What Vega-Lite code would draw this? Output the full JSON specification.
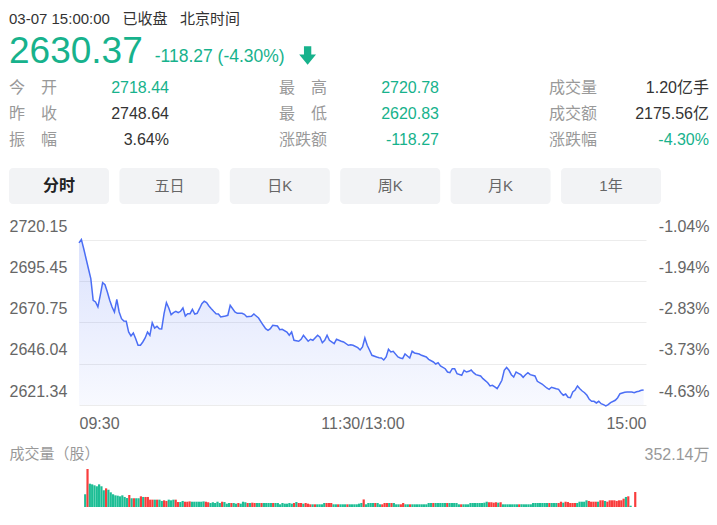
{
  "$schema": "https://vega.github.io/schema/vega-lite/v6.json",
  "background": "white",
  "padding": {"left": 9, "right": 8, "top": 0, "bottom": 0},
  "bounds": "flush",
  "spacing": 0,
  "resolve": {"scale": {"color": "independent"}},
  "config": {
    "font": "Liberation Sans, Noto Sans CJK SC, sans-serif",
    "view": {"stroke": null}
  },
  "datasets": {
    "head": [
      {"k": "a", "role": "time", "text": "03-07 15:00:00\u00a0\u00a0\u00a0已收盘\u00a0\u00a0\u00a0北京时间"},
      {"k": "a", "role": "price", "text": "2630.37"},
      {"k": "b", "role": "chg", "text": "-118.27 (-4.30%)"},
      {"k": "c", "role": "arrow", "text": ""}
    ],
    "stats": [
      {"g": "a", "r": 1, "label": "今　开", "value": "2718.44", "tone": "down"},
      {"g": "a", "r": 2, "label": "昨　收", "value": "2748.64", "tone": "flat"},
      {"g": "a", "r": 3, "label": "振　幅", "value": "3.64%", "tone": "flat"},
      {"g": "b", "r": 1, "label": "最　高", "value": "2720.78", "tone": "down"},
      {"g": "b", "r": 2, "label": "最　低", "value": "2620.83", "tone": "down"},
      {"g": "b", "r": 3, "label": "涨跌额", "value": "-118.27", "tone": "down"},
      {"g": "c", "r": 1, "label": "成交量", "value": "1.20亿手", "tone": "flat"},
      {"g": "c", "r": 2, "label": "成交额", "value": "2175.56亿", "tone": "flat"},
      {"g": "c", "r": 3, "label": "涨跌幅", "value": "-4.30%", "tone": "down"}
    ],
    "buttons": [
      {"name": "分时", "active": true},
      {"name": "五日", "active": false},
      {"name": "日K", "active": false},
      {"name": "周K", "active": false},
      {"name": "月K", "active": false},
      {"name": "1年", "active": false}
    ],
    "price": [
      {"t":0,"p":2718.44},{"t":1,"p":2720.5},{"t":2,"p":2714.94},{"t":3,"p":2708.95},{"t":4,"p":2702.96},
      {"t":5,"p":2696.98},{"t":6,"p":2684.04},{"t":7,"p":2683.02},{"t":8,"p":2680.03},{"t":9,"p":2687.04},
      {"t":10,"p":2694.58},{"t":11,"p":2693.38},{"t":12,"p":2689.01},{"t":13,"p":2684.04},{"t":14,"p":2680.03},
      {"t":15,"p":2677.04},{"t":16,"p":2684.64},{"t":17,"p":2677.04},{"t":18,"p":2673.02},{"t":19,"p":2671.65},
      {"t":20,"p":2671.47},{"t":21,"p":2665.06},{"t":22,"p":2662.67},{"t":23,"p":2664.46},{"t":24,"p":2661.05},
      {"t":25,"p":2657.1},{"t":26,"p":2657.1},{"t":27,"p":2659.07},{"t":28,"p":2661.47},{"t":29,"p":2665.06},
      {"t":30,"p":2663.08},{"t":31,"p":2670.63},{"t":32,"p":2667.46},{"t":33,"p":2668.47},{"t":34,"p":2667.04},
      {"t":35,"p":2666.86},{"t":36,"p":2676.02},{"t":37,"p":2682.61},{"t":38,"p":2679.43},{"t":39,"p":2675.42},
      {"t":40,"p":2676.62},{"t":41,"p":2677.46},{"t":42,"p":2676.62},{"t":43,"p":2677.46},{"t":44,"p":2679.43},
      {"t":45,"p":2674.64},{"t":46,"p":2676.02},{"t":47,"p":2676.02},{"t":48,"p":2678.65},{"t":49,"p":2675.84},
      {"t":50,"p":2676.26},{"t":51,"p":2679.01},{"t":52,"p":2682.01},{"t":53,"p":2683.44},{"t":54,"p":2682.61},
      {"t":55,"p":2680.63},{"t":56,"p":2679.01},{"t":57,"p":2677.46},{"t":58,"p":2676.02},{"t":59,"p":2675.84},
      {"t":60,"p":2674.04},{"t":62,"p":2674.64},{"t":63,"p":2675.06},{"t":64,"p":2681.05},{"t":66,"p":2677.04},
      {"t":67,"p":2676.26},{"t":69,"p":2676.26},{"t":70,"p":2675.66},{"t":71,"p":2674.22},{"t":73,"p":2674.46},
      {"t":74,"p":2675.84},{"t":75,"p":2674.64},{"t":76,"p":2673.44},{"t":78,"p":2669.07},{"t":79,"p":2667.04},
      {"t":80,"p":2666.08},{"t":81,"p":2667.04},{"t":82,"p":2669.07},{"t":84,"p":2668.65},{"t":85,"p":2666.44},
      {"t":86,"p":2666.68},{"t":88,"p":2665.06},{"t":89,"p":2663.08},{"t":90,"p":2665.06},{"t":91,"p":2660.09},
      {"t":93,"p":2659.49},{"t":94,"p":2660.69},{"t":95,"p":2663.08},{"t":97,"p":2659.49},{"t":98,"p":2660.69},
      {"t":99,"p":2660.09},{"t":101,"p":2663.08},{"t":102,"p":2661.89},{"t":103,"p":2658.65},{"t":104,"p":2660.09},
      {"t":105,"p":2663.08},{"t":106,"p":2660.09},{"t":108,"p":2658.05},{"t":109,"p":2660.69},{"t":111,"p":2659.49},
      {"t":112,"p":2659.07},{"t":114,"p":2657.1},{"t":115,"p":2657.46},{"t":116,"p":2657.1},{"t":118,"p":2655.66},
      {"t":119,"p":2654.28},{"t":120,"p":2656.08},{"t":121,"p":2661.47},{"t":122,"p":2657.1},{"t":123,"p":2654.1},
      {"t":124,"p":2651.11},{"t":126,"p":2650.09},{"t":127,"p":2649.67},{"t":128,"p":2649.49},{"t":129,"p":2648.29},
      {"t":130,"p":2650.09},{"t":131,"p":2654.7},{"t":132,"p":2653.08},{"t":133,"p":2653.5},{"t":135,"p":2650.09},
      {"t":136,"p":2649.49},{"t":137,"p":2649.07},{"t":138,"p":2651.89},{"t":139,"p":2650.69},{"t":140,"p":2649.49},
      {"t":141,"p":2653.5},{"t":142,"p":2652.49},{"t":144,"p":2651.89},{"t":145,"p":2651.11},{"t":147,"p":2650.09},
      {"t":148,"p":2648.71},{"t":150,"p":2647.1},{"t":151,"p":2645.9},{"t":152,"p":2646.68},{"t":153,"p":2644.7},
      {"t":155,"p":2643.08},{"t":156,"p":2641.11},{"t":157,"p":2640.69},{"t":158,"p":2643.08},{"t":159,"p":2643.08},
      {"t":160,"p":2640.09},{"t":162,"p":2639.13},{"t":163,"p":2642.13},{"t":164,"p":2641.11},{"t":165,"p":2641.53},
      {"t":166,"p":2642.31},{"t":167,"p":2640.69},{"t":168,"p":2639.49},{"t":170,"p":2638.71},{"t":171,"p":2637.1},
      {"t":173,"p":2634.7},{"t":174,"p":2632.73},{"t":175,"p":2633.14},{"t":176,"p":2632.13},{"t":177,"p":2631.11},
      {"t":178,"p":2633.5},{"t":179,"p":2636.14},{"t":180,"p":2642.13},{"t":181,"p":2643.8},{"t":182,"p":2642.13},
      {"t":183,"p":2639.49},{"t":184,"p":2638.11},{"t":185,"p":2641.11},{"t":186,"p":2640.33},{"t":187,"p":2639.49},
      {"t":188,"p":2637.94},{"t":189,"p":2639.49},{"t":190,"p":2640.69},{"t":191,"p":2639.49},{"t":193,"p":2638.71},
      {"t":194,"p":2635.54},{"t":196,"p":2633.92},{"t":197,"p":2632.73},{"t":198,"p":2631.53},{"t":199,"p":2630.75},
      {"t":200,"p":2631.95},{"t":202,"p":2631.11},{"t":203,"p":2630.75},{"t":204,"p":2628.71},{"t":205,"p":2627.16},
      {"t":206,"p":2627.93},{"t":207,"p":2625.96},{"t":208,"p":2625.72},{"t":209,"p":2629.13},{"t":210,"p":2630.33},
      {"t":211,"p":2632.73},{"t":212,"p":2631.11},{"t":213,"p":2629.73},{"t":214,"p":2628.71},{"t":215,"p":2627.16},
      {"t":216,"p":2624.76},{"t":217,"p":2623.56},{"t":218,"p":2623.56},{"t":219,"p":2622.55},{"t":220,"p":2623.56},
      {"t":221,"p":2622.13},{"t":222,"p":2621.53},{"t":223,"p":2620.83},{"t":224,"p":2621.53},{"t":225,"p":2622.73},
      {"t":227,"p":2624.16},{"t":228,"p":2625.72},{"t":229,"p":2628.11},{"t":231,"p":2628.95},{"t":232,"p":2629.13},
      {"t":234,"p":2629.13},{"t":235,"p":2628.71},{"t":236,"p":2629.31},{"t":237,"p":2629.55},{"t":238,"p":2630.15},
      {"t":239,"p":2630.37}
    ],
    "vol": [
      {"t":0,"v":118,"dir":"down"},{"t":1,"v":352.14,"dir":"up"},{"t":2,"v":216,"dir":"down"},{"t":3,"v":210,"dir":"down"},
      {"t":4,"v":201,"dir":"down"},{"t":5,"v":192,"dir":"down"},{"t":6,"v":210,"dir":"down"},{"t":7,"v":192,"dir":"down"},
      {"t":8,"v":155,"dir":"down"},{"t":9,"v":173,"dir":"up"},{"t":10,"v":160,"dir":"down"},{"t":11,"v":136,"dir":"down"},
      {"t":12,"v":118,"dir":"down"},{"t":13,"v":108,"dir":"down"},{"t":14,"v":105,"dir":"down"},{"t":15,"v":99,"dir":"down"},
      {"t":16,"v":108,"dir":"down"},{"t":17,"v":93,"dir":"down"},{"t":18,"v":83,"dir":"down"},{"t":19,"v":111,"dir":"up"},
      {"t":20,"v":81,"dir":"down"},{"t":21,"v":81,"dir":"up"},{"t":22,"v":81,"dir":"down"},{"t":23,"v":81,"dir":"down"},
      {"t":24,"v":99,"dir":"up"},{"t":25,"v":93,"dir":"down"},{"t":26,"v":93,"dir":"up"},{"t":27,"v":93,"dir":"up"},
      {"t":28,"v":68,"dir":"up"},{"t":29,"v":68,"dir":"up"},{"t":30,"v":68,"dir":"down"},{"t":31,"v":68,"dir":"up"},
      {"t":32,"v":68,"dir":"down"},{"t":33,"v":56,"dir":"down"},{"t":34,"v":62,"dir":"up"},{"t":35,"v":56,"dir":"up"},
      {"t":36,"v":68,"dir":"down"},{"t":37,"v":62,"dir":"down"},{"t":38,"v":68,"dir":"down"},{"t":39,"v":68,"dir":"up"},
      {"t":40,"v":46,"dir":"up"},{"t":41,"v":46,"dir":"down"},{"t":42,"v":56,"dir":"down"},{"t":43,"v":49,"dir":"up"},
      {"t":44,"v":49,"dir":"up"},{"t":45,"v":52,"dir":"up"},{"t":46,"v":49,"dir":"down"},{"t":47,"v":49,"dir":"down"},
      {"t":48,"v":49,"dir":"down"},{"t":49,"v":49,"dir":"down"},{"t":50,"v":49,"dir":"down"},{"t":51,"v":52,"dir":"down"},
      {"t":52,"v":49,"dir":"up"},{"t":53,"v":44,"dir":"up"},{"t":54,"v":37,"dir":"down"},{"t":55,"v":44,"dir":"down"},
      {"t":56,"v":37,"dir":"down"},{"t":57,"v":49,"dir":"down"},{"t":58,"v":37,"dir":"down"},{"t":59,"v":49,"dir":"up"},
      {"t":60,"v":46,"dir":"down"},{"t":61,"v":31,"dir":"down"},{"t":62,"v":37,"dir":"down"},{"t":63,"v":37,"dir":"up"},
      {"t":64,"v":37,"dir":"down"},{"t":65,"v":31,"dir":"down"},{"t":66,"v":37,"dir":"up"},{"t":67,"v":31,"dir":"down"},
      {"t":68,"v":49,"dir":"down"},{"t":69,"v":44,"dir":"down"},{"t":70,"v":37,"dir":"up"},{"t":71,"v":37,"dir":"down"},
      {"t":72,"v":40,"dir":"up"},{"t":73,"v":37,"dir":"up"},{"t":74,"v":37,"dir":"down"},{"t":75,"v":37,"dir":"down"},
      {"t":76,"v":37,"dir":"up"},{"t":77,"v":37,"dir":"down"},{"t":78,"v":37,"dir":"down"},{"t":79,"v":37,"dir":"down"},
      {"t":80,"v":37,"dir":"down"},{"t":81,"v":37,"dir":"up"},{"t":82,"v":37,"dir":"down"},{"t":83,"v":37,"dir":"down"},
      {"t":84,"v":25,"dir":"down"},{"t":85,"v":37,"dir":"down"},{"t":86,"v":31,"dir":"down"},{"t":87,"v":31,"dir":"down"},
      {"t":88,"v":37,"dir":"down"},{"t":89,"v":31,"dir":"down"},{"t":90,"v":37,"dir":"up"},{"t":91,"v":46,"dir":"down"},
      {"t":92,"v":37,"dir":"up"},{"t":93,"v":37,"dir":"up"},{"t":94,"v":31,"dir":"down"},{"t":95,"v":37,"dir":"up"},
      {"t":96,"v":31,"dir":"up"},{"t":97,"v":25,"dir":"up"},{"t":98,"v":25,"dir":"down"},{"t":99,"v":25,"dir":"up"},
      {"t":100,"v":25,"dir":"down"},{"t":101,"v":25,"dir":"down"},{"t":102,"v":25,"dir":"down"},{"t":103,"v":37,"dir":"down"},
      {"t":104,"v":37,"dir":"up"},{"t":105,"v":37,"dir":"up"},{"t":106,"v":37,"dir":"up"},{"t":107,"v":25,"dir":"down"},
      {"t":108,"v":25,"dir":"down"},{"t":109,"v":25,"dir":"up"},{"t":110,"v":25,"dir":"down"},{"t":111,"v":25,"dir":"down"},
      {"t":112,"v":25,"dir":"down"},{"t":113,"v":25,"dir":"up"},{"t":114,"v":25,"dir":"down"},{"t":115,"v":25,"dir":"down"},
      {"t":116,"v":25,"dir":"down"},{"t":117,"v":25,"dir":"down"},{"t":118,"v":31,"dir":"down"},{"t":119,"v":37,"dir":"down"},
      {"t":120,"v":70,"dir":"up"},{"t":121,"v":25,"dir":"down"},{"t":122,"v":37,"dir":"down"},{"t":123,"v":37,"dir":"down"},
      {"t":124,"v":37,"dir":"down"},{"t":125,"v":37,"dir":"up"},{"t":126,"v":37,"dir":"down"},{"t":127,"v":25,"dir":"down"},
      {"t":128,"v":25,"dir":"up"},{"t":129,"v":37,"dir":"up"},{"t":130,"v":37,"dir":"up"},{"t":131,"v":37,"dir":"down"},
      {"t":132,"v":37,"dir":"up"},{"t":133,"v":37,"dir":"down"},{"t":134,"v":25,"dir":"down"},{"t":135,"v":25,"dir":"down"},
      {"t":136,"v":25,"dir":"up"},{"t":137,"v":37,"dir":"up"},{"t":138,"v":25,"dir":"down"},{"t":139,"v":25,"dir":"down"},
      {"t":140,"v":25,"dir":"up"},{"t":141,"v":25,"dir":"down"},{"t":142,"v":25,"dir":"down"},{"t":143,"v":25,"dir":"down"},
      {"t":144,"v":25,"dir":"down"},{"t":145,"v":25,"dir":"down"},{"t":146,"v":25,"dir":"down"},{"t":147,"v":25,"dir":"down"},
      {"t":148,"v":37,"dir":"down"},{"t":149,"v":37,"dir":"down"},{"t":150,"v":37,"dir":"up"},{"t":151,"v":37,"dir":"down"},
      {"t":152,"v":37,"dir":"down"},{"t":153,"v":37,"dir":"down"},{"t":154,"v":37,"dir":"down"},{"t":155,"v":37,"dir":"down"},
      {"t":156,"v":37,"dir":"up"},{"t":157,"v":37,"dir":"down"},{"t":158,"v":37,"dir":"down"},{"t":159,"v":37,"dir":"down"},
      {"t":160,"v":37,"dir":"down"},{"t":161,"v":25,"dir":"down"},{"t":162,"v":25,"dir":"up"},{"t":163,"v":25,"dir":"down"},
      {"t":164,"v":25,"dir":"down"},{"t":165,"v":25,"dir":"down"},{"t":166,"v":37,"dir":"down"},{"t":167,"v":37,"dir":"down"},
      {"t":168,"v":37,"dir":"down"},{"t":169,"v":37,"dir":"down"},{"t":170,"v":37,"dir":"down"},{"t":171,"v":37,"dir":"down"},
      {"t":172,"v":40,"dir":"down"},{"t":173,"v":49,"dir":"down"},{"t":174,"v":44,"dir":"up"},{"t":175,"v":44,"dir":"up"},
      {"t":176,"v":40,"dir":"up"},{"t":177,"v":44,"dir":"up"},{"t":178,"v":40,"dir":"down"},{"t":179,"v":44,"dir":"up"},
      {"t":180,"v":25,"dir":"down"},{"t":181,"v":25,"dir":"down"},{"t":182,"v":25,"dir":"down"},{"t":183,"v":25,"dir":"down"},
      {"t":184,"v":25,"dir":"down"},{"t":185,"v":25,"dir":"down"},{"t":186,"v":25,"dir":"down"},{"t":187,"v":25,"dir":"up"},
      {"t":188,"v":25,"dir":"down"},{"t":189,"v":25,"dir":"down"},{"t":190,"v":25,"dir":"down"},{"t":191,"v":25,"dir":"down"},
      {"t":192,"v":25,"dir":"down"},{"t":193,"v":37,"dir":"down"},{"t":194,"v":37,"dir":"down"},{"t":195,"v":37,"dir":"down"},
      {"t":196,"v":37,"dir":"down"},{"t":197,"v":37,"dir":"down"},{"t":198,"v":37,"dir":"down"},{"t":199,"v":37,"dir":"down"},
      {"t":200,"v":37,"dir":"up"},{"t":201,"v":37,"dir":"down"},{"t":202,"v":37,"dir":"down"},{"t":203,"v":37,"dir":"down"},
      {"t":204,"v":37,"dir":"up"},{"t":205,"v":49,"dir":"up"},{"t":206,"v":40,"dir":"down"},{"t":207,"v":49,"dir":"up"},
      {"t":208,"v":46,"dir":"up"},{"t":209,"v":37,"dir":"up"},{"t":210,"v":37,"dir":"up"},{"t":211,"v":37,"dir":"up"},
      {"t":212,"v":37,"dir":"down"},{"t":213,"v":49,"dir":"down"},{"t":214,"v":49,"dir":"down"},{"t":215,"v":49,"dir":"down"},
      {"t":216,"v":62,"dir":"down"},{"t":217,"v":56,"dir":"up"},{"t":218,"v":49,"dir":"up"},{"t":219,"v":49,"dir":"up"},
      {"t":220,"v":49,"dir":"up"},{"t":221,"v":49,"dir":"down"},{"t":222,"v":62,"dir":"up"},{"t":223,"v":62,"dir":"up"},
      {"t":224,"v":56,"dir":"down"},{"t":225,"v":49,"dir":"up"},{"t":226,"v":62,"dir":"up"},{"t":227,"v":62,"dir":"up"},
      {"t":228,"v":62,"dir":"up"},{"t":229,"v":56,"dir":"up"},{"t":230,"v":62,"dir":"up"},{"t":231,"v":62,"dir":"up"},
      {"t":232,"v":77,"dir":"up"},{"t":233,"v":93,"dir":"down"},{"t":234,"v":99,"dir":"up"},{"t":235,"v":12,"dir":"down"},
      {"t":237,"v":139,"dir":"up"}
    ]
  },
  "vconcat": [
    {
      "width": 700,
      "height": 36,
      "data": {"name": "head"},
      "transform": [{"filter": "datum.role == 'time'"}],
      "mark": {"type": "text", "align": "left", "baseline": "middle", "fontSize": 15, "color": "#333333", "dy": 1},
      "encoding": {
        "x": {"field": "k", "type": "nominal", "bandPosition": 0, "scale": {"type": "band", "paddingInner": 0, "paddingOuter": 0}, "axis": null},
        "text": {"field": "text"}
      }
    },
    {
      "width": 437,
      "height": 39,
      "data": {"name": "head"},
      "layer": [
        {
          "transform": [{"filter": "datum.role == 'price'"}],
          "mark": {"type": "text", "align": "left", "baseline": "alphabetic", "fontSize": 37, "color": "#17b28c", "dy": 7},
          "encoding": {
            "x": {"field": "k", "type": "nominal", "bandPosition": 0, "scale": {"type": "band", "domain": ["a", "b", "c"], "paddingInner": 0, "paddingOuter": 0}, "axis": null},
            "text": {"field": "text"}
          }
        },
        {
          "transform": [{"filter": "datum.role == 'chg'"}],
          "mark": {"type": "text", "align": "left", "baseline": "alphabetic", "fontSize": 17.5, "color": "#17b28c", "dy": 6},
          "encoding": {
            "x": {"field": "k", "type": "nominal", "bandPosition": 0, "axis": null},
            "text": {"field": "text"}
          }
        },
        {
          "transform": [{"filter": "datum.role == 'arrow'"}],
          "mark": {"type": "point", "shape": "M-0.4,-1L0.4,-1L0.4,-0.1L0.92,-0.1L0,1L-0.92,-0.1L-0.4,-0.1Z", "size": 335, "filled": true, "opacity": 1, "color": "#17b28c", "strokeWidth": 0},
          "encoding": {
            "x": {"field": "k", "type": "nominal", "bandPosition": 0.05, "axis": null}
          }
        }
      ]
    },
    {
      "width": 700,
      "height": 93,
      "data": {"name": "stats"},
      "encoding": {
        "y": {"field": "r", "type": "ordinal", "scale": {"type": "band", "paddingInner": 0, "paddingOuter": 0.2885, "align": 0}, "axis": null}
      },
      "layer": [
        {
          "mark": {"type": "text", "align": "left", "baseline": "middle", "fontSize": 16, "color": "#999999"},
          "encoding": {
            "x": {"field": "g", "type": "nominal", "bandPosition": 0, "scale": {"type": "band", "paddingInner": 0.4074, "paddingOuter": 0}, "axis": null},
            "text": {"field": "label"}
          }
        },
        {
          "mark": {"type": "text", "align": "right", "baseline": "middle", "fontSize": 16},
          "encoding": {
            "x": {"field": "g", "type": "nominal", "bandPosition": 1, "axis": null},
            "text": {"field": "value"},
            "color": {"field": "tone", "type": "nominal", "scale": {"domain": ["down", "flat"], "range": ["#17b28c", "#333333"]}, "legend": null}
          }
        }
      ]
    },
    {
      "width": 652,
      "height": 36,
      "data": {"name": "buttons"},
      "encoding": {
        "x": {"field": "name", "type": "nominal", "sort": null, "scale": {"type": "band", "paddingInner": 0.094, "paddingOuter": 0}, "axis": null}
      },
      "layer": [
        {"mark": {"type": "bar", "cornerRadius": 4, "color": "#f2f3f5"}},
        {
          "transform": [{"filter": "!datum.active"}],
          "mark": {"type": "text", "baseline": "middle", "fontSize": 15, "color": "#666666"},
          "encoding": {"text": {"field": "name"}}
        },
        {
          "transform": [{"filter": "datum.active"}],
          "mark": {"type": "text", "baseline": "middle", "fontSize": 16, "fontWeight": "bold", "color": "#222222"},
          "encoding": {"text": {"field": "name"}}
        }
      ]
    },
    {
      "width": 700,
      "height": 201,
      "data": {"name": "price"},
      "encoding": {
        "x": {
          "field": "t", "type": "quantitative",
          "scale": {"domain": [0, 240], "rangeMin": 70, "rangeMax": 637, "nice": false, "zero": false},
          "axis": {
            "orient": "bottom", "values": [0, 120, 240], "title": null,
            "labelExpr": "datum.value == 0 ? '09:30' : datum.value == 120 ? '11:30/13:00' : '15:00'",
            "labelAlign": {"condition": [{"test": "datum.value == 0", "value": "left"}, {"test": "datum.value == 240", "value": "right"}], "value": "center"},
            "labelBaseline": "top", "labelPadding": 10, "labelFlush": false, "labelOverlap": false,
            "labelColor": "#666666", "labelFontSize": 16,
            "grid": false, "domain": false, "ticks": false
          }
        }
      },
      "layer": [
        {
          "mark": {
            "type": "area",
            "color": {"gradient": "linear", "x1": 0, "y1": 0, "x2": 0, "y2": 1,
              "stops": [{"offset": 0, "color": "rgba(75,110,245,0.2)"}, {"offset": 1, "color": "rgba(75,110,245,0.04)"}]}
          },
          "encoding": {
            "y": {
              "field": "p", "type": "quantitative",
              "scale": {"domain": [2621.34, 2720.15], "rangeMax": 36, "nice": false, "zero": false},
              "axis": {
                "orient": "left", "values": [2621.34, 2646.04, 2670.75, 2695.45, 2720.15], "format": ".2f", "title": null,
                "grid": true, "gridColor": "#ececec", "gridWidth": 1, "domain": false, "ticks": false,
                "labelAlign": "left", "labelBaseline": "alphabetic", "labelPadding": 0, "labelOffset": -9,
                "labelFlush": false, "labelOverlap": false, "labelColor": "#666666", "labelFontSize": 16
              }
            },
            "y2": {"datum": 2621.34}
          }
        },
        {
          "mark": {"type": "line", "color": "#4b6ef5", "strokeWidth": 1.5},
          "encoding": {
            "y": {
              "field": "p", "type": "quantitative",
              "axis": {
                "orient": "right", "values": [2621.34, 2646.04, 2670.75, 2695.45, 2720.15], "title": null,
                "labelExpr": "replace(format((datum.value - 2748.64) / 2748.64 * 100, '.2f'), '\u2212', '-') + '%'",
                "grid": false, "domain": false, "ticks": false,
                "labelAlign": "right", "labelBaseline": "alphabetic", "labelPadding": 0, "labelOffset": -9,
                "labelFlush": false, "labelOverlap": false, "labelColor": "#666666", "labelFontSize": 16
              }
            }
          }
        }
      ],
      "resolve": {"axis": {"y": "independent"}}
    },
    {
      "width": 700,
      "height": 102,
      "data": {"name": "vol"},
      "mark": {"type": "bar", "width": 2.2, "xOffset": 1.2},
      "encoding": {
        "x": {"field": "t", "type": "quantitative", "scale": {"domain": [0, 240], "rangeMin": 70, "rangeMax": 637, "nice": false, "zero": false}, "axis": null},
        "y": {
          "field": "v", "type": "quantitative", "stack": null,
          "scale": {"domain": [0, 352.14], "rangeMax": 64, "nice": false},
          "axis": {
            "orient": "right", "values": [0, 352.14],
            "labelExpr": "datum.value > 0 ? format(datum.value, '.2f') + '万' : ''",
            "grid": true, "gridColor": "#ececec",
            "gridOpacity": {"condition": {"test": "datum.value == 0", "value": 1}, "value": 0},
            "domain": false, "ticks": false,
            "labelAlign": "right", "labelBaseline": "alphabetic", "labelPadding": 0, "labelOffset": -10,
            "labelFlush": false, "labelOverlap": false, "labelColor": "#999999", "labelFontSize": 16,
            "title": "成交量（股）", "titleAngle": 0, "titleAlign": "left", "titleBaseline": "middle",
            "titleX": -700, "titleY": 48, "titleColor": "#999999", "titleFontSize": 15, "titleFontWeight": "normal"
          }
        },
        "color": {"field": "dir", "type": "nominal", "scale": {"domain": ["up", "down"], "range": ["#f93d3d", "#1dbe95"]}, "legend": null}
      }
    }
  ]
}
